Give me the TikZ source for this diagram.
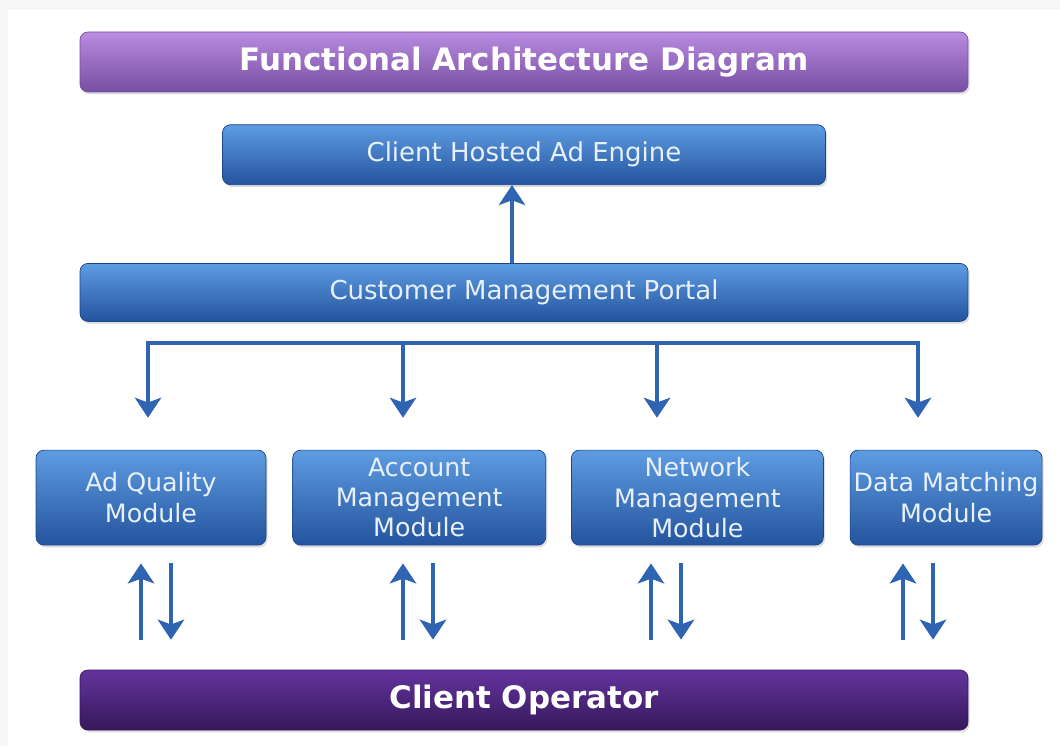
\documentclass[tikz,border=0pt]{standalone}
\usepackage{fontspec}
\setmainfont{DejaVu Sans}
\usetikzlibrary{arrows.meta,positioning,shadows}

\definecolor{boxtop}{RGB}{94,156,226}
\definecolor{boxbot}{RGB}{36,84,158}
\definecolor{boxline}{RGB}{30,68,136}
\definecolor{titletop}{RGB}{184,140,224}
\definecolor{titlebot}{RGB}{120,78,162}
\definecolor{optop}{RGB}{100,52,158}
\definecolor{opbot}{RGB}{54,24,90}
\definecolor{flowblue}{RGB}{46,100,178}
\definecolor{boxtext}{RGB}{232,240,250}

\begin{document}
\begin{tikzpicture}[node distance=0.8cm,
    >={Stealth[length=0.5cm,width=0.66cm,inset=0.12cm]}]
  \tikzstyle{block}=[rectangle, rounded corners=0.2cm, top color=boxtop,
    bottom color=boxbot, draw=boxline, line width=0.5pt, text=boxtext,
    align=center, inner sep=0pt, font=\fontsize{18.5}{21.5}\selectfont,
    drop shadow={opacity=0.25, shadow xshift=0.04cm, shadow yshift=-0.06cm}]
  \tikzstyle{banner}=[block, minimum width=22.2cm, minimum height=1.5cm]
  \tikzstyle{module}=[block, minimum height=2.375cm, font=\fontsize{18}{21.5}\selectfont]
  \tikzstyle{flow}=[draw=flowblue, line width=2.4pt]

  % page
  \useasboundingbox (0,0) rectangle (26.5,-18.65);
  \fill[gray!7] (0,0) rectangle (26.5,-18.65);
  \fill[white] (0.2,-0.25) rectangle (26.5,-18.65);

  % layers
  \node[banner, top color=titletop, bottom color=titlebot, draw=titlebot,
    text=white, font=\bfseries\fontsize{22}{26}\selectfont]
    (title) at (13.1,-1.55) {Functional Architecture Diagram};
  \node[block, minimum width=15.075cm, minimum height=1.5cm]
    (engine) [below=of title] {Client Hosted Ad Engine};
  \node[banner, minimum height=1.45cm]
    (portal) [below=1.95cm of engine] {Customer Management Portal};

  \node[module, minimum width=5.75cm]  (aq) at (3.775,-12.44) {Ad Quality\\Module};
  \node[module, minimum width=6.325cm] (am) [right=0.65cm of aq]  {Account\\Management\\Module};
  \node[module, minimum width=6.3cm]   (nm) [right=0.625cm of am] {Network\\Management\\Module};
  \node[module, minimum width=4.8cm]   (dm) [right=0.65cm of nm]  {Data Matching\\Module};

  \node[banner, top color=optop, bottom color=opbot, draw=opbot,
    text=white, font=\bfseries\fontsize{22}{26}\selectfont]
    (op) at (13.1,-17.5) {Client Operator};

  % portal to engine
  \coordinate (up) at (12.8,0);
  \draw[flow,->] (up |- portal.north) -- (up |- engine.south);

  % bus to modules
  \coordinate (b1) at (3.7,-8.575);
  \coordinate (b2) at (10.075,-8.575);
  \coordinate (b3) at (16.425,-8.575);
  \coordinate (b4) at (22.95,-8.575);
  \draw[flow, line cap=rect] (b1) -- (b4);
  \foreach \b/\m in {b1/aq, b2/am, b3/nm, b4/dm}
    \draw[flow,->,shorten >=0.8cm] (\b) -- (\b |- \m.north);

  % modules and operator
  \foreach \m/\ux/\dx in {aq/3.525/4.275, am/10.075/10.825,
                          nm/16.275/17.025, dm/22.575/23.325} {
    \coordinate (u) at (\ux,0);
    \coordinate (d) at (\dx,0);
    \draw[flow,->,shorten <=0.75cm,shorten >=0.45cm] (u |- op.north) -- (u |- \m.south);
    \draw[flow,->,shorten <=0.45cm,shorten >=0.75cm] (d |- \m.south) -- (d |- op.north);
  }
\end{tikzpicture}
\end{document}
